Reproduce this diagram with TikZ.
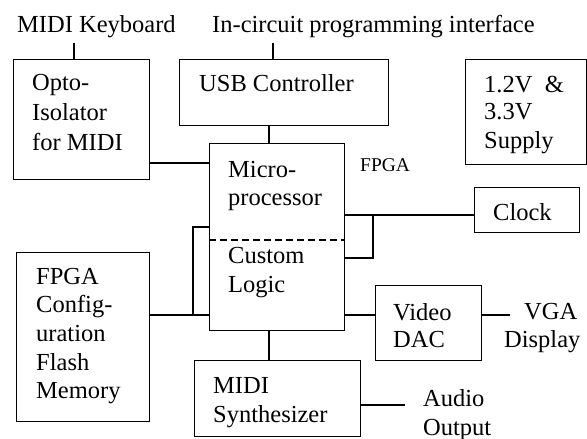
\documentclass[tikz,border=0pt]{standalone}
\usepackage{fontspec}
\setmainfont{Liberation Serif}
\newcommand\mltext[2]{\fontsize{24.5}{#1}\selectfont\begin{tabular}[t]{@{}l@{}}#2\end{tabular}}
\tikzset{
  blk/.style={draw, line width=1.2pt, inner sep=0pt, anchor=north west},
  lbl/.style={anchor=base west, inner sep=0pt, font=\fontsize{24.5}{30}\selectfont},
  wire/.style={line width=1.2pt},
}
\begin{document}
\begin{tikzpicture}[x=1pt,y=-1pt]
\useasboundingbox (0,0) rectangle (587,439);
% boxes
\node[blk, minimum width=136pt, minimum height=120pt] (opto) at (13,59) {};
\node[blk, minimum width=209pt, minimum height=66pt] (usb) at (179,59) {};
\node[blk, minimum width=121pt, minimum height=105pt] (sup) at (465,59) {};
\node[blk, minimum width=135pt, minimum height=187pt] (fpga) at (209,143) {};
\node[blk, minimum width=105pt, minimum height=45pt] (clk) at (474,187) {};
\node[blk, minimum width=133pt, minimum height=169pt] (flash) at (16,252) {};
\node[blk, minimum width=106pt, minimum height=75pt] (vdac) at (375,285) {};
\node[blk, minimum width=166pt, minimum height=76pt] (synth) at (194,360) {};
% texts
\node[lbl] (tkb) at (17,32) {MIDI Keyboard};
\node[lbl] (tic) at (212,32) {In-circuit programming interface};
\node[lbl] (topto) at (32,90) {\mltext{30}{Opto-\\Isolator\\for MIDI}};
\node[lbl] (tusb) at (199,91) {USB Controller};
\node[lbl] (tsup) at (484,92) {\mltext{28}{1.2V\ \ \&\\3.3V\\Supply}};
\node[lbl, font=\fontsize{19.5}{22}\selectfont] (tfpga) at (360,171) {FPGA};
\node[lbl] (tmicro) at (228,177) {\mltext{28}{Micro-\\processor}};
\node[lbl] (tcust) at (228,263) {\mltext{29}{Custom\\Logic}};
\node[lbl] (tclk) at (493,220) {Clock};
\node[lbl] (tflash) at (36,284) {\mltext{28.7}{FPGA\\Config-\\uration\\Flash\\Memory}};
\node[lbl] (tvdac) at (393,320) {\mltext{27}{Video\\DAC}};
\node[lbl] (tvga) at (524,319) {VGA};
\node[lbl] (tdisp) at (504,347) {Display};
\node[lbl] (tsynth) at (213,393) {\mltext{29}{MIDI\\Synthesizer}};
\node[lbl] (taud) at (423,406) {\mltext{29}{Audio\\Output}};
% free ends
\coordinate (kb) at (74,43);
\coordinate (ic) at (273,43);
\coordinate (vga) at (510,315);
\coordinate (aud) at (405,405);
\coordinate (rb) at (373,215);
\coordinate (lb) at (193,227);
% connectors
\draw[wire] (kb) -- (kb |- opto.north);
\draw[wire] (ic) -- (ic |- usb.north);
\draw[wire] (usb.south -| 269,0) -- (fpga.north -| 269,0);
\draw[wire] (opto.east |- 0,163) -- (fpga.west |- 0,163);
\draw[wire] (fpga.east |- rb) -- (clk.west |- rb);
\draw[wire] (rb) -- (373,258) -- (fpga.east |- 0,258);
\draw[wire] (fpga.west |- lb) -- (lb) -- (193,315);
\draw[wire] (flash.east |- 0,315) -- (fpga.west |- 0,315);
\draw[wire] (fpga.east |- 0,315) -- (vdac.west |- 0,315);
\draw[wire] (vdac.east |- vga) -- (vga);
\draw[wire] (fpga.south -| 269,0) -- (synth.north -| 269,0);
\draw[wire] (synth.east |- aud) -- (aud);
\draw[wire, dash pattern=on 7pt off 4pt] (fpga.west |- 0,240) -- (fpga.east |- 0,240);
\end{tikzpicture}
\end{document}
